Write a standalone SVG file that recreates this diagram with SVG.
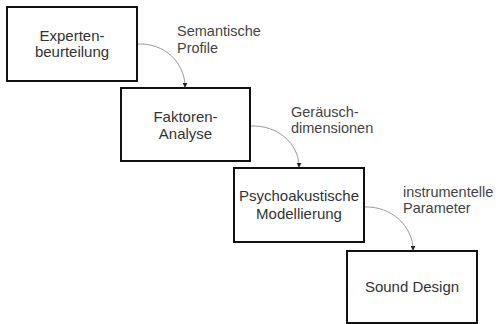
<svg xmlns="http://www.w3.org/2000/svg" width="499" height="324" viewBox="0 0 499 324">
<style>
.box{fill:#fff;stroke:#111;stroke-width:2}
.t{font-family:"Liberation Sans",Arial,sans-serif;font-size:15px;fill:#333;text-anchor:middle}
.l{font-family:"Liberation Sans",Arial,sans-serif;font-size:14.5px;fill:#444}
.c{fill:none;stroke:#999;stroke-width:1}
</style>
<defs>
<marker id="ah" viewBox="0 0 6 6" refX="5" refY="3" markerWidth="5" markerHeight="5" orient="auto" markerUnits="userSpaceOnUse">
<path d="M0,0 L6,3 L0,6 z" fill="#222"/>
</marker>
</defs>
<rect width="499" height="324" fill="#fff"/>
<g id="n1">
<rect class="box" x="7" y="7" width="130" height="74"/>
<text class="t" x="72" y="41">Experten-</text>
<text class="t" x="72" y="57">beurteilung</text>
</g>
<g id="n2">
<rect class="box" x="121" y="88" width="129" height="73"/>
<text class="t" x="185.5" y="122">Faktoren-</text>
<text class="t" x="185.5" y="139">Analyse</text>
</g>
<g id="n3">
<rect class="box" x="234" y="168" width="130" height="74"/>
<text class="t" x="299" y="201">Psychoakustische</text>
<text class="t" x="299" y="219">Modellierung</text>
</g>
<g id="n4">
<rect class="box" x="347" y="251" width="130" height="72"/>
<text class="t" x="412" y="292">Sound Design</text>
</g>
<g id="labels">
<text class="l" x="177" y="36">Semantische</text>
<text class="l" x="177" y="53">Profile</text>
<text class="l" x="291" y="117">Geräusch-</text>
<text class="l" x="291" y="133">dimensionen</text>
<text class="l" x="403" y="197">instrumentelle</text>
<text class="l" x="403" y="213">Parameter</text>
</g>
<g id="connectors">
<path class="c" d="M138,44 C164,43 185,62 185,87" marker-end="url(#ah)"/>
<path class="c" d="M251,126 C277,125 299,143 299,167" marker-end="url(#ah)"/>
<path class="c" d="M365,207 C391,206 413,226 413,250" marker-end="url(#ah)"/>
</g>
</svg>
